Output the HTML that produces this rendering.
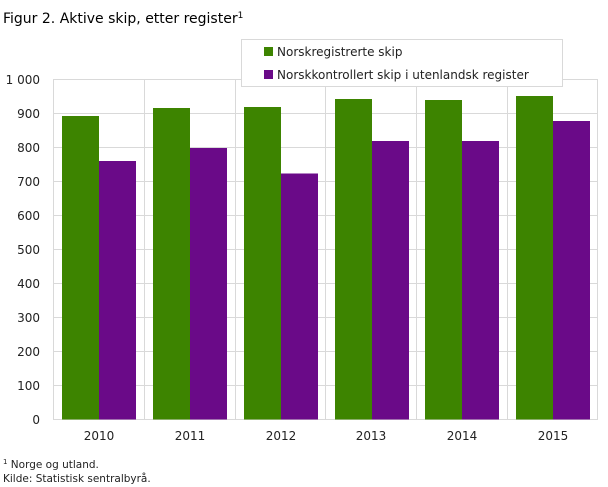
<!DOCTYPE html>
<html><head><meta charset="utf-8"><style>
body{margin:0;background:#fff;}
svg{display:block;font-family:"DejaVu Sans","Liberation Sans",sans-serif;}
</style></head><body>
<svg width="608" height="487" xmlns="http://www.w3.org/2000/svg">
<text x="3" y="23" font-size="14" fill="#000">Figur 2. Aktive skip, etter register<tspan font-size="9" dy="-5">1</tspan></text>
<g stroke="#d9d9d9" stroke-width="1">
<line x1="53" y1="79.5" x2="598" y2="79.5"/>
<line x1="53" y1="113.5" x2="598" y2="113.5"/>
<line x1="53" y1="147.5" x2="598" y2="147.5"/>
<line x1="53" y1="181.5" x2="598" y2="181.5"/>
<line x1="53" y1="215.5" x2="598" y2="215.5"/>
<line x1="53" y1="249.5" x2="598" y2="249.5"/>
<line x1="53" y1="283.5" x2="598" y2="283.5"/>
<line x1="53" y1="317.5" x2="598" y2="317.5"/>
<line x1="53" y1="351.5" x2="598" y2="351.5"/>
<line x1="53" y1="385.5" x2="598" y2="385.5"/>
<line x1="53" y1="419.5" x2="598" y2="419.5"/>
<line x1="53.5" y1="79.5" x2="53.5" y2="419.5"/>
<line x1="144.5" y1="79.5" x2="144.5" y2="419.5"/>
<line x1="235.5" y1="79.5" x2="235.5" y2="419.5"/>
<line x1="325.5" y1="79.5" x2="325.5" y2="419.5"/>
<line x1="416.5" y1="79.5" x2="416.5" y2="419.5"/>
<line x1="507.5" y1="79.5" x2="507.5" y2="419.5"/>
<line x1="597.5" y1="79.5" x2="597.5" y2="419.5"/>
</g>
<g fill="#3d8400">
<rect x="62" y="116" width="37" height="303.5"/>
<rect x="153" y="108" width="37" height="311.5"/>
<rect x="244" y="107" width="37" height="312.5"/>
<rect x="335" y="99" width="37" height="320.5"/>
<rect x="425" y="100" width="37" height="319.5"/>
<rect x="516" y="96" width="37" height="323.5"/>
</g>
<g fill="#6a0a88">
<rect x="99" y="161" width="37" height="258.5"/>
<rect x="190" y="148" width="37" height="271.5"/>
<rect x="281" y="173.5" width="37" height="246"/>
<rect x="372" y="141" width="37" height="278.5"/>
<rect x="462" y="141" width="37" height="278.5"/>
<rect x="553" y="121" width="37" height="298.5"/>
</g>
<g font-size="12" fill="#222" text-anchor="end">
<text x="40" y="84">1 000</text>
<text x="40" y="118">900</text>
<text x="40" y="152">800</text>
<text x="40" y="186">700</text>
<text x="40" y="220">600</text>
<text x="40" y="254">500</text>
<text x="40" y="288">400</text>
<text x="40" y="322">300</text>
<text x="40" y="356">200</text>
<text x="40" y="390">100</text>
<text x="40" y="424">0</text>
</g>
<g font-size="12" fill="#222" text-anchor="middle">
<text x="99" y="440">2010</text>
<text x="190" y="440">2011</text>
<text x="281" y="440">2012</text>
<text x="371" y="440">2013</text>
<text x="462" y="440">2014</text>
<text x="553" y="440">2015</text>
</g>
<rect x="241.5" y="39.5" width="321" height="47" fill="#fff" stroke="#d9d9d9"/>
<rect x="264" y="47" width="9" height="9" fill="#3d8400"/>
<rect x="264" y="70" width="9" height="9" fill="#6a0a88"/>
<g font-size="12" fill="#222">
<text x="277" y="56">Norskregistrerte skip</text>
<text x="277" y="79">Norskkontrollert skip i utenlandsk register</text>
</g>
<g font-size="10.5" fill="#222">
<text x="3" y="468"><tspan font-size="7" dy="-4">1</tspan><tspan dy="4"> Norge og utland.</tspan></text>
<text x="3" y="482">Kilde: Statistisk sentralbyrå.</text>
</g>
</svg>
</body></html>
